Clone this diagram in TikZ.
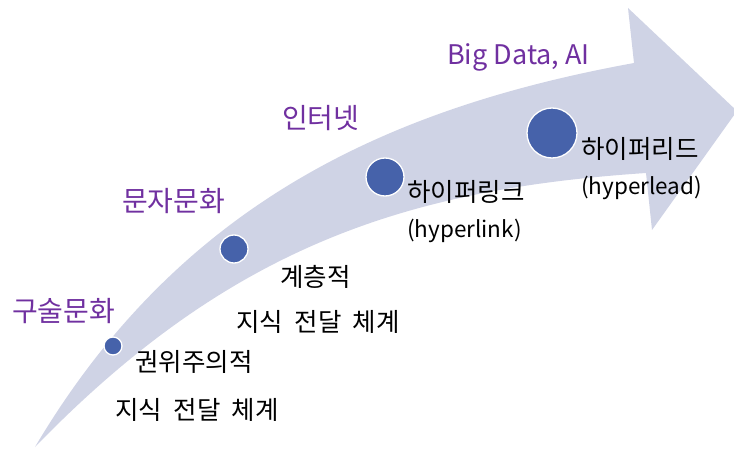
\documentclass[tikz,border=0pt]{standalone}
\usepackage{fontspec}
\setmainfont[WordSpace=2]{Noto Sans CJK KR}
\newfontfamily\latinfam{Noto Sans CJK KR}
\definecolor{arrowfill}{RGB}{207,211,229}
\definecolor{dotblue}{RGB}{70,98,170}
\definecolor{labelpurple}{RGB}{112,48,160}
\tikzset{
  era/.style={anchor=west,inner sep=0pt,text=labelpurple,font=\fontsize{28}{32}\selectfont},
  eralat/.style={era,font=\latinfam\fontsize{27}{32}\selectfont},
  desc/.style={anchor=west,inner sep=0pt,text=black,font=\fontsize{25.5}{30}\selectfont},
  desclat/.style={desc,font=\latinfam\fontsize{22.5}{27}\selectfont},
  dot/.style={circle,fill=dotblue,draw=white,line width=1.3pt,inner sep=0pt}
}
\begin{document}
\begin{tikzpicture}[x=1pt,y=-1pt]
\useasboundingbox (0,0) rectangle (734,449);
\clip (0,0) rectangle (734,449);
\fill[arrowfill] (35,447) .. controls (179,204) and (387,108) .. (634,63)
  -- (628,8) -- (737,111) -- (652,230) -- (646,173)
  .. controls (407,189) and (230,246) .. (35,447) -- cycle;
\node[dot,minimum size=18pt] (d1) at (113,346) {};
\node[dot,minimum size=28pt] (d2) at (234,249) {};
\node[dot,minimum size=38pt] (d3) at (385,177) {};
\node[dot,minimum size=50pt] (d4) at (552,133) {};
\node[era] (e1) at (12,311) {구술문화};
\node[era] (e2) at (122,201) {문자문화};
\node[era] (e3) at (282,118) {인터넷};
\node[eralat] (e4) at (447,57) {Big Data, AI};
\node[desc] (t1) at (135,362) {권위주의적};
\node[desc] (t2) at (115,410) {지식 전달 체계};
\node[desc] (t3) at (280,277) {계층적};
\node[desc] (t4) at (236,322) {지식 전달 체계};
\node[desc] (t5) at (407,192) {하이퍼링크};
\node[desclat] (t6) at (407,231) {(hyperlink)};
\node[desc] (t7) at (581,149) {하이퍼리드};
\node[desclat] (t8) at (581,188) {(hyperlead)};
\end{tikzpicture}
\end{document}
